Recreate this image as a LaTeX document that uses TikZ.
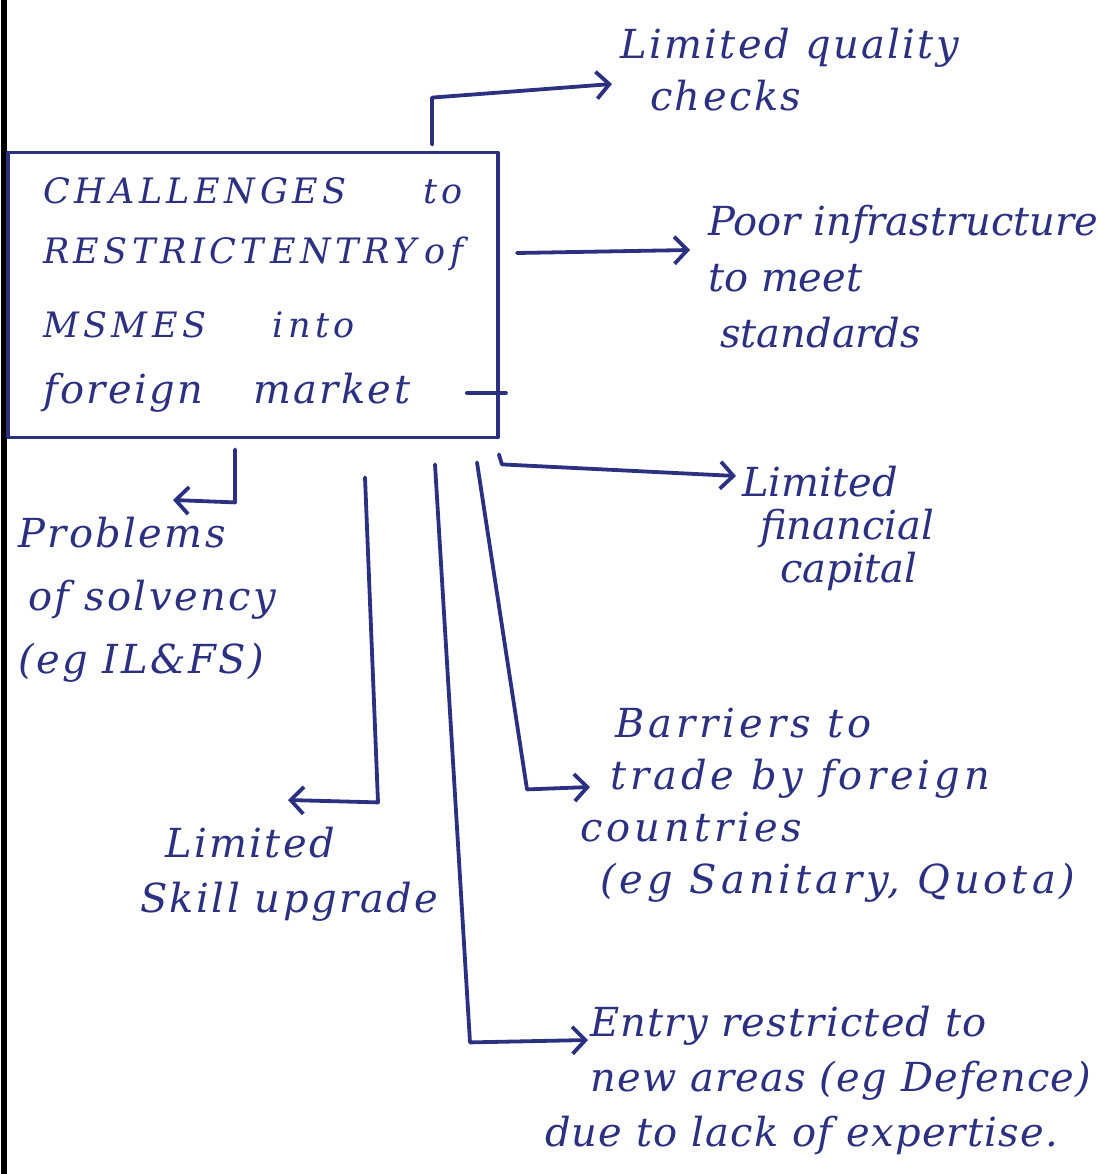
\documentclass[tikz,border=0pt]{standalone}
\usepackage{fontspec}
\setmainfont{DejaVu Serif}
\newfontfamily\capsfont[LetterSpace=13]{DejaVu Serif}
\newfontfamily\handwide[LetterSpace=6]{DejaVu Serif}
\newfontfamily\handmid[LetterSpace=3]{DejaVu Serif}
\newfontfamily\handwider[LetterSpace=10]{DejaVu Serif}
\usetikzlibrary{arrows.meta}
\definecolor{ink}{HTML}{2B3180}
\tikzset{
  pen/.style={draw=ink, line width=3.8pt, line cap=round, line join=round},
  pen arrow/.style={pen, -{Straight Barb[length=13pt,width=27pt,line width=3.8pt]}},
  note/.style={text=ink, align=left, inner sep=0pt, anchor=north west},
}
\begin{document}
\begin{tikzpicture}[x=1pt,y=-1pt]
\useasboundingbox (0,0) rectangle (1100,1174);
\fill[white] (0,0) rectangle (1100,1174);
% page edge
\draw[black, line width=6pt] (4,0) -- (4,1174);

% central box
\node[pen, rectangle, minimum width=490pt, minimum height=285pt,
      text width=420pt, align=left, inner sep=0pt, text=ink,
      font=\capsfont\fontsize{35}{66}\selectfont\itshape]
  (hub) at (253,295)
  {CHALLENGES\hfill to\\[-6pt]
   RESTRICT\,ENTRY\hfill of\\[8pt]
   MSMES\hspace{66pt}into\\
   \handwide\fontsize{40}{66}\selectfont\itshape foreign\hspace{50pt}market};
\draw[pen] ([xshift=-33pt,yshift=-98pt]hub.east) -- ([xshift=6pt,yshift=-98pt]hub.east);

% outcomes
\node[note, font=\handwide\fontsize{40}{52}\selectfont\itshape] (quality) at (620,28)
  {Limited quality\\\hspace*{30pt}checks};
\node[note, font=\fontsize{40}{56}\selectfont\itshape] (infra) at (708,205)
  {Poor infrastructure\\to meet\\\hspace*{12pt}standards};
\node[note, font=\fontsize{40}{43}\selectfont\itshape] (finance) at (742,466)
  {Limited\\\hspace*{18pt}financial\\\hspace*{38pt}capital};
\node[note, font=\handwide\fontsize{40}{63}\selectfont\itshape] (solvency) at (18,517)
  {Problems\\\hspace*{10pt}of solvency\\(eg IL\&FS)};
\node[note, font=\handwide\fontsize{40}{55}\selectfont\itshape] (skill) at (140,827)
  {\hspace*{25pt}Limited\\Skill upgrade};
\node[note, font=\handwider\fontsize{40}{52}\selectfont\itshape] (barrier) at (580,708)
  {\hspace*{35pt}Barriers to\\\hspace*{30pt}trade by foreign\\countries\\\hspace*{20pt}(eg Sanitary, Quota)};
\node[note, font=\handmid\fontsize{40}{55}\selectfont\itshape] (entry) at (545,1006)
  {\hspace*{45pt}Entry restricted to\\\hspace*{45pt}new areas (eg Defence)\\due to lack of expertise.};

% connectors
\draw[pen arrow] ([xshift=179pt,yshift=6pt]hub.north) -- ++(0,-47)
  -- ([xshift=-8pt,yshift=-56pt]quality.north west);
\draw[pen arrow] ([xshift=17pt,yshift=42pt]hub.east)
  -- ([xshift=-18pt,yshift=-45pt]infra.north west);
\draw[pen arrow] ([xshift=-1pt,yshift=-15pt]hub.south east) -- ++(3,10)
  -- ([xshift=-6pt,yshift=-10pt]finance.north west);
\draw[pen arrow] ([xshift=-18pt,yshift=-10pt]hub.south) -- ++(0,53)
  -- ([xshift=155pt,yshift=17pt]solvency.north west);
\draw[pen arrow] ([xshift=112pt,yshift=-38pt]hub.south) -- ++(13,325)
  -- ([xshift=148pt,yshift=27pt]skill.north west);
\draw[pen arrow] ([xshift=224pt,yshift=-23pt]hub.south) -- ++(50,327)
  -- ([xshift=10pt,yshift=-79pt]barrier.north west);
\draw[pen arrow] ([xshift=182pt,yshift=-25pt]hub.south) -- ++(35,578)
  -- ([xshift=43pt,yshift=-34pt]entry.north west);
\end{tikzpicture}
\end{document}
